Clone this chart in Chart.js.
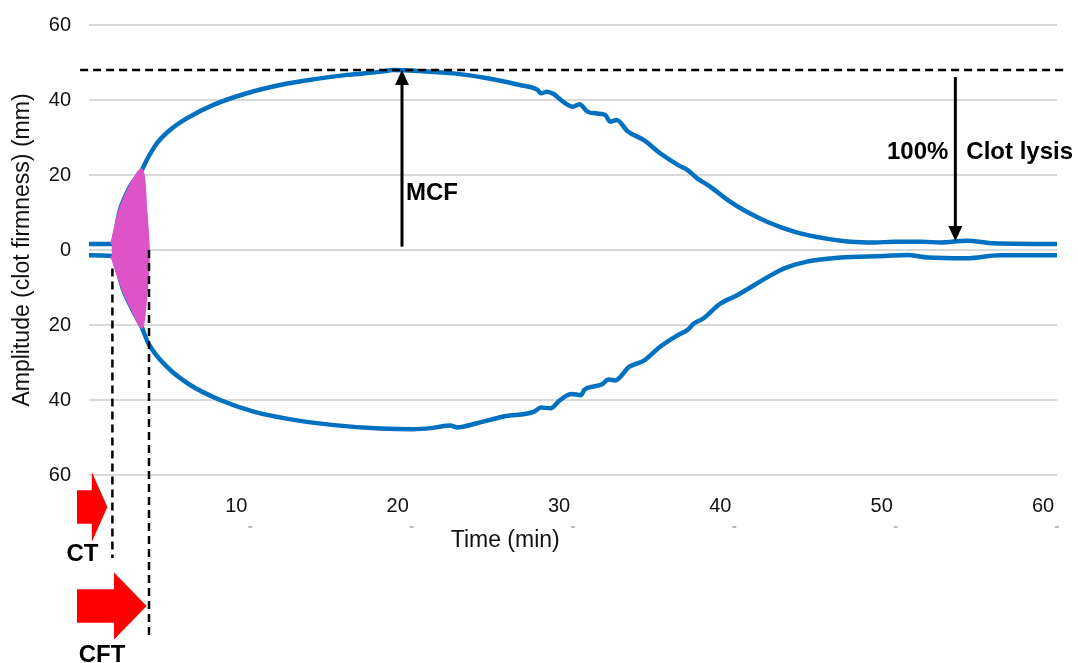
<!DOCTYPE html>
<html>
<head>
<meta charset="utf-8">
<script src="https://cdn.jsdelivr.net/npm/chart.js@4.4.0/dist/chart.umd.min.js"></script>
<style>
body { margin: 0; background: #fff; }
</style>
</head>
<body>
<canvas id="chart" width="1078" height="663"></canvas>
<script>
// upper trace of the ROTEM curve (time in min, amplitude in mm)
var upperTime = [0, 1.41, 1.92, 2.54, 3.27, 3.58, 4.2, 5.02, 6.06, 7.71, 9.78, 11.85, 13.9, 16.0, 18.05, 18.9, 20.5, 22.6,
    24.7, 26.7, 27.8, 28.0, 28.4, 28.8, 29.4, 30.0, 30.4, 30.9, 31.5, 32.0, 32.3, 32.7, 33.4, 34.4, 35.4, 36.5, 37.1,
    37.7, 38.5, 39.6, 40.6, 42.1, 43.7, 45.6, 47.2, 48.7, 49.9, 51.6, 52.8, 54.4, 56.1, 60];
var upperAmp = [1.6, 1.6, 10.7, 16.9, 21.3, 24.0, 28.4, 32.0, 35.1, 38.7, 41.8, 44.0, 45.5, 46.7, 47.5, 48.0, 47.7, 47.1,
    45.8, 44.0, 42.7, 41.8, 42.2, 41.6, 39.5, 38.2, 38.9, 36.9, 36.4, 36.0, 34.2, 34.7, 31.6, 29.3, 25.8, 22.7, 21.3,
    19.1, 16.9, 13.3, 10.6, 7.4, 4.9, 3.1, 2.2, 2.0, 2.2, 2.2, 2.0, 2.5, 1.8, 1.6];

// lower trace
var lowerTime = [0, 1.41, 2.13, 2.75, 3.27, 3.68, 4.82, 6.27, 8.13, 10.2, 12.7, 15.2, 18.05, 20.1, 21.2, 22.4, 22.8,
    24.05, 25.7, 27.6, 28.0, 28.6, 29.2, 29.9, 30.5, 30.7, 31.3, 31.8, 32.2, 32.6, 33.5, 34.4, 35.4, 36.5, 37.1, 37.5,
    38.1, 39.1, 40.2, 42.2, 43.1, 44.5, 46.6, 49.3, 50.7, 52.0, 54.4, 56.5, 60];
var lowerAmp = [-1.4, -1.6, -10.7, -16.4, -20.6, -24.9, -31.1, -36.0, -40.0, -43.1, -45.3, -46.7, -47.6, -47.8, -47.5,
    -46.8, -47.3, -46.2, -44.4, -43.1, -42.0, -42.2, -40.0, -38.4, -38.7, -37.3, -36.4, -35.8, -34.5, -34.8, -31.1,
    -29.5, -25.8, -22.7, -21.3, -19.6, -18.2, -14.4, -12.0, -6.9, -4.9, -3.1, -2.0, -1.6, -1.3, -2.0, -2.2, -1.4, -1.4];

// pink area between CT and CFT (outline, closed)
var pinkTime = [1.41, 1.92, 2.54, 3.27, 3.52, 3.68, 3.64, 3.47, 3.27, 2.75, 2.13, 1.41];
var pinkAmp = [1.6, 10.7, 16.9, 21.3, 10.7, 0, -6, -15, -20.6, -16.4, -10.7, -1.6];

// markers
var ctTime = 1.45;
var cftTime = 3.72;
var mcfTime = 19.4;
var mcfAmp = 48;
var lysisTime = 53.7;
var lysisTopAmp = 46.1;
var lysisAmp = 2.4;

var xTicks = [10, 20, 30, 40, 50, 60];

var FONT = '"Liberation Sans", Arial, sans-serif';

function toPoints(xs, ys) {
    var pts = [];
    for (var i = 0; i < xs.length; i++) {
        pts.push({ x: xs[i], y: ys[i] });
    }
    return pts;
}

function segment(ctx, x0, y0, x1, y1) {
    ctx.beginPath();
    ctx.moveTo(x0, y0);
    ctx.lineTo(x1, y1);
    ctx.stroke();
}

// vertical arrow from y0 to y1, head at y1
function arrowV(ctx, x, y0, y1) {
    var dir = y1 > y0 ? 1 : -1;
    var head = 15;
    segment(ctx, x, y0, x, y1 - dir * head);
    ctx.beginPath();
    ctx.moveTo(x, y1);
    ctx.lineTo(x - 7, y1 - dir * head);
    ctx.lineTo(x + 7, y1 - dir * head);
    ctx.closePath();
    ctx.fill();
}

// fat red block arrow pointing right
function blockArrow(ctx, left, tipX, tipY, headLen, headHalf, bodyHalf) {
    var back = tipX - headLen;
    ctx.beginPath();
    ctx.moveTo(left, tipY - bodyHalf);
    ctx.lineTo(back, tipY - bodyHalf);
    ctx.lineTo(back, tipY - headHalf);
    ctx.lineTo(tipX, tipY);
    ctx.lineTo(back, tipY + headHalf);
    ctx.lineTo(back, tipY + bodyHalf);
    ctx.lineTo(left, tipY + bodyHalf);
    ctx.closePath();
    ctx.fill();
}

var annotations = {
    id: 'annotations',
    afterDraw: function(chart) {
        var ctx = chart.ctx;
        var xs = chart.scales.x;
        var ys = chart.scales.y;
        var area = chart.chartArea;
        ctx.save();

        // small tick dashes under the x labels
        ctx.strokeStyle = '#a6a6a6';
        ctx.lineWidth = 1.5;
        xTicks.forEach(function(t) {
            var px = xs.getPixelForValue(t);
            segment(ctx, px - 2, area.bottom + 52, px + 2, area.bottom + 52);
        });

        // x title
        ctx.fillStyle = '#111';
        ctx.font = '23px ' + FONT;
        ctx.textAlign = 'center';
        ctx.textBaseline = 'middle';
        ctx.fillText('Time (min)', xs.getPixelForValue(25.8), area.bottom + 66);

        ctx.strokeStyle = '#000';
        ctx.fillStyle = '#000';

        // MCF level line
        ctx.lineWidth = 2.5;
        ctx.setLineDash([8, 5]);
        var mcfY = ys.getPixelForValue(mcfAmp);
        segment(ctx, xs.getPixelForValue(-0.55), mcfY, xs.getPixelForValue(60.4), mcfY);

        // CT / CFT dashed verticals
        var ctX = xs.getPixelForValue(ctTime);
        var cftX = xs.getPixelForValue(cftTime);
        segment(ctx, ctX, ys.getPixelForValue(-4.9), ctX, area.bottom + 83);
        segment(ctx, cftX, ys.getPixelForValue(0), cftX, area.bottom + 165);
        ctx.setLineDash([]);

        // MCF arrow
        ctx.lineWidth = 3;
        var mcfX = xs.getPixelForValue(mcfTime);
        arrowV(ctx, mcfX, ys.getPixelForValue(0.9), mcfY);
        ctx.font = 'bold 24px ' + FONT;
        ctx.textAlign = 'left';
        ctx.fillText('MCF', mcfX + 4, ys.getPixelForValue(15.2));

        // clot lysis arrow
        var lyX = xs.getPixelForValue(lysisTime);
        arrowV(ctx, lyX, ys.getPixelForValue(lysisTopAmp), ys.getPixelForValue(lysisAmp));
        var lyTextY = ys.getPixelForValue(26.1);
        ctx.textAlign = 'right';
        ctx.fillText('100%', lyX - 7, lyTextY);
        ctx.textAlign = 'left';
        ctx.fillText('Clot lysis', lyX + 11, lyTextY);

        // red arrows
        ctx.fillStyle = '#ff0000';
        blockArrow(ctx, area.left - 12, ctX - 5, area.bottom + 32, 15.6, 35, 16.7);
        blockArrow(ctx, area.left - 12, cftX - 2.3, area.bottom + 131, 32.7, 33.6, 16.7);

        ctx.fillStyle = '#000';
        ctx.textAlign = 'center';
        ctx.fillText('CT', area.left - 6.5, area.bottom + 79);
        ctx.fillText('CFT', area.left + 13, area.bottom + 180);

        ctx.restore();
    }
};

var ctx = document.getElementById('chart').getContext('2d');
var myChart = new Chart(ctx, {
    type: 'line',
    data: {
        datasets: [{
            label: 'CT-CFT',
            data: toPoints(pinkTime, pinkAmp),
            borderWidth: 3,
            borderColor: '#dc54c7',
            backgroundColor: '#dc54c7',
            fill: 'shape',
            tension: 0.3,
            pointRadius: 0,
            order: 0
        }, {
            label: 'upper',
            data: toPoints(upperTime, upperAmp),
            borderColor: '#0070c0',
            borderWidth: 4.5,
            pointRadius: 0,
            cubicInterpolationMode: 'monotone',
            fill: false,
            order: 1
        }, {
            label: 'lower',
            data: toPoints(lowerTime, lowerAmp),
            borderColor: '#0070c0',
            borderWidth: 4.5,
            pointRadius: 0,
            cubicInterpolationMode: 'monotone',
            fill: false,
            order: 1
        }]
    },
    options: {
        responsive: false,
        animation: false,
        layout: {
            padding: { left: 0, right: 21, top: 25, bottom: 0 }
        },
        plugins: {
            legend: { display: false },
            tooltip: { enabled: false }
        },
        scales: {
            x: {
                type: 'linear',
                min: 0,
                max: 60,
                grid: { display: false },
                border: { display: false },
                ticks: {
                    stepSize: 10,
                    padding: 11,
                    labelOffset: -14,
                    color: '#111',
                    font: { family: FONT, size: 20 },
                    maxRotation: 0,
                    callback: function(v) { return v === 0 ? '' : v; }
                },
                afterFit: function(s) {
                    s.height = 188;
                    s.paddingLeft = 0;
                    s.paddingRight = 0;
                }
            },
            y: {
                min: -60,
                max: 60,
                grid: { color: '#d9d9d9', lineWidth: 2, drawTicks: false },
                border: { display: false },
                ticks: {
                    stepSize: 20,
                    padding: 18,
                    color: '#111',
                    font: { family: FONT, size: 20 },
                    callback: function(v) { return Math.abs(v); }
                },
                title: {
                    display: true,
                    text: 'Amplitude (clot firmness) (mm)',
                    color: '#111',
                    font: { family: FONT, size: 23 },
                    padding: { top: 9, bottom: 0 }
                },
                afterFit: function(s) {
                    s.width = 89;
                    s.paddingTop = 0;
                    s.paddingBottom = 0;
                }
            }
        }
    },
    plugins: [annotations]
});
</script>
</body>
</html>
